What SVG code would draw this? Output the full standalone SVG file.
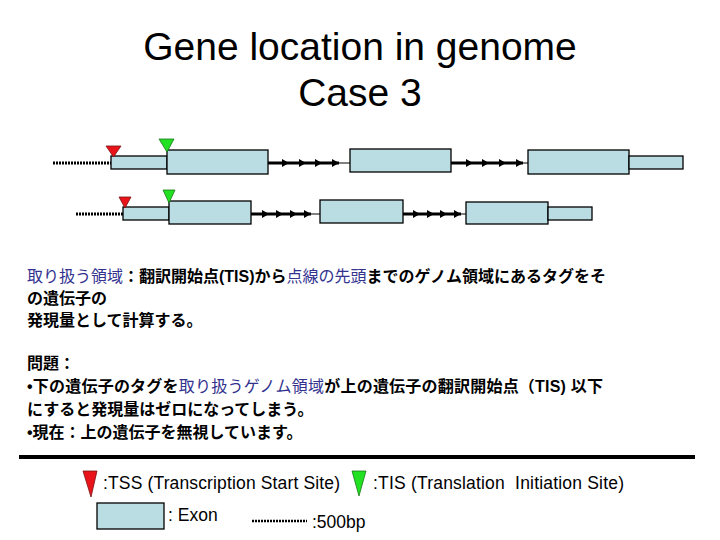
<svg xmlns="http://www.w3.org/2000/svg" width="720" height="540" viewBox="0 0 720 540">
<style>
.title{font-family:"Liberation Sans",Arial,sans-serif;font-size:39px;fill:#000;text-anchor:middle}
.jp{font-family:"Liberation Sans","Noto Sans CJK JP",sans-serif;font-size:16px;fill:#000;font-weight:bold}
.b{fill:#33338f;font-weight:normal}
.leg{font-family:"Liberation Sans",Arial,sans-serif;font-size:17.5px;fill:#000}
.exon{fill:#b9dde2;stroke:#000;stroke-width:1.3}
.tss{fill:#e8141a;stroke:#7a1010;stroke-width:0.8}
.tis{fill:#22e022;stroke:#167a16;stroke-width:0.8}
.dot{stroke:#000;stroke-width:3;stroke-dasharray:2 1;fill:none}
.thick{stroke:#000;stroke-width:3;fill:none;marker-mid:url(#ah);marker-end:url(#ah)}
.thin{stroke:#000;stroke-width:1;fill:none}
</style>
<defs>
<marker id="ah" markerUnits="userSpaceOnUse" markerWidth="8" markerHeight="10" refX="7" refY="5" orient="auto" viewBox="0 0 8 10">
<path d="M0,1 L7,5 L0,9 Z" fill="#000"/>
</marker>
</defs>

<g id="title">
<text class="title" x="360" y="60">Gene location in genome</text>
<text class="title" x="360" y="106">Case 3</text>
</g>

<g id="connectors">
<line class="dot" x1="53" y1="163" x2="111" y2="163"/>
<path class="thick" d="M268,163 L289,163 L306,163 L322,163 L339,163"/>
<line class="thin" x1="339" y1="163" x2="350" y2="163"/>
<path class="thick" d="M451,163 L473,163 L489,163 L506,163 L523,163"/>
<line class="thin" x1="523" y1="163" x2="528" y2="163"/>
<line class="dot" x1="76" y1="214" x2="123" y2="214"/>
<path class="thick" d="M251,214 L269,214 L283,214 L297,214 L311,214"/>
<line class="thin" x1="311" y1="214" x2="320" y2="214"/>
<path class="thick" d="M403,214 L420,214 L434,214 L447,214 L461,214"/>
<line class="thin" x1="461" y1="214" x2="466" y2="214"/>
</g>

<g id="gene-top">
<rect class="exon" x="111" y="156" width="56" height="13"/>
<rect class="exon" x="167" y="150" width="101" height="24"/>
<rect class="exon" x="350" y="149" width="101" height="23"/>
<rect class="exon" x="528" y="150" width="101" height="24"/>
<rect class="exon" x="629" y="156" width="54" height="13"/>
<polygon class="tss" points="106,146 121,146 113.5,157"/>
<polygon class="tis" points="159,139 174,139 167,152"/>
</g>

<g id="gene-bottom">
<rect class="exon" x="123" y="207" width="46" height="13"/>
<rect class="exon" x="169" y="201" width="82" height="23"/>
<rect class="exon" x="320" y="200" width="83" height="23"/>
<rect class="exon" x="466" y="202" width="82" height="22"/>
<rect class="exon" x="548" y="207" width="44" height="13"/>
<polygon class="tss" points="119,197 131,197 125,208"/>
<polygon class="tis" points="163,190 175,190 169,203"/>
</g>

<g id="description">
<text class="jp" x="27" y="282" textLength="579"><tspan class="b">取り扱う領域</tspan>：翻訳開始点(TIS)から<tspan class="b">点線の先頭</tspan>までのゲノム領域にあるタグをそ</text>
<text class="jp" x="27" y="304">の遺伝子の</text>
<text class="jp" x="27" y="326">発現量として計算する。</text>
<text class="jp" x="27" y="369">問題：</text>
<text class="jp" x="27" y="392" textLength="576">•下の遺伝子のタグを<tspan class="b">取り扱うゲノム領域</tspan>が上の遺伝子の翻訳開始点（TIS) 以下</text>
<text class="jp" x="27" y="415">にすると発現量はゼロになってしまう。</text>
<text class="jp" x="27" y="438">•現在：上の遺伝子を無視しています。</text>
</g>

<line x1="19" y1="457" x2="695" y2="457" stroke="#000" stroke-width="4"/>

<g id="legend">
<polygon class="tss" points="83,471 97,471 91,497"/>
<text class="leg" x="103" y="489" textLength="237">:TSS (Transcription Start Site)</text>
<polygon class="tis" points="352,471 366,471 359,496"/>
<text class="leg" x="373" y="489" textLength="251" xml:space="preserve">:TIS (Translation  Initiation Site)</text>
<rect class="exon" x="97" y="503" width="67" height="26"/>
<text class="leg" x="168" y="521">: Exon</text>
<line class="dot" x1="252" y1="521" x2="307" y2="521" style="stroke-width:2.5"/>
<text class="leg" x="312" y="528">:500bp</text>
</g>
</svg>
